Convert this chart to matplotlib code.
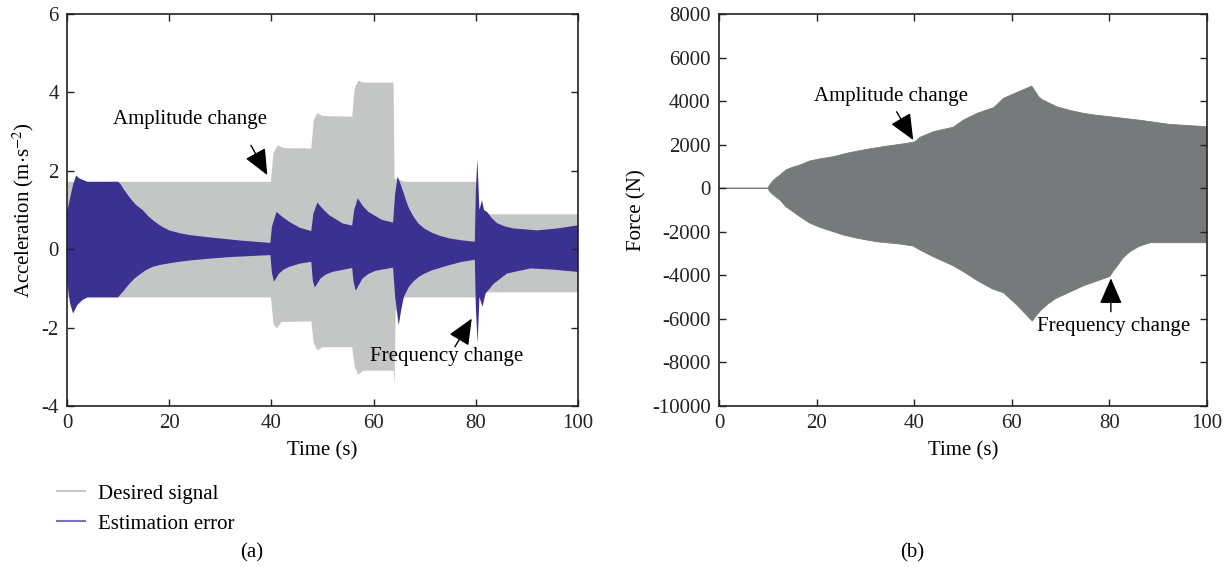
import matplotlib
matplotlib.use('Agg')
import matplotlib.pyplot as plt
from matplotlib.lines import Line2D

plt.rcParams.update({
    'font.family': 'Liberation Serif',
    'mathtext.fontset': 'stix',
    'font.size': 15,
    'axes.unicode_minus': False,
    'xtick.direction': 'in',
    'ytick.direction': 'in',
    'xtick.top': True,
    'ytick.right': True,
})

# (a) desired signal envelope, m/s^2
sig_up_t = [0, 39.9, 40.4, 41.2, 42.5, 47.8, 48.3, 49.0, 50.0, 55.8, 56.3, 57.0, 58.0,
            63.9, 64.1, 66.2, 80.0, 80.15, 100]
sig_up = [1.72, 1.72, 2.45, 2.65, 2.58, 2.57, 3.3, 3.47, 3.4, 3.38, 4.1, 4.3, 4.25,
          4.25, 1.8, 1.72, 1.72, 0.89, 0.89]
sig_lo_t = [0, 39.9, 40.4, 41.0, 42.0, 47.8, 48.3, 49.0, 50.0, 55.8, 56.3, 57.0, 58.0,
            63.9, 64.1, 64.3, 66.0, 80.0, 80.15, 100]
sig_lo = [-1.23, -1.23, -1.9, -2.02, -1.86, -1.84, -2.4, -2.58, -2.5, -2.5, -3.0, -3.2, -3.1,
          -3.1, -3.45, -1.6, -1.23, -1.23, -1.1, -1.1]

# (a) estimation error envelope
err_up_t = [0, 0.6, 1.2, 1.8, 2.5, 4, 10, 10.5, 11, 11.7, 12.5, 13.5, 14.8, 16, 17, 18.5,
            20, 22, 24, 28, 34, 39.8,
            40.1, 41.0, 42.2, 43.5, 45.5, 47.8,
            48.2, 49.0, 50.1, 51.3, 53.9, 55.8,
            56.2, 56.9, 57.9, 59.0, 61.6, 63.8,
            64.2, 64.7, 65.3, 65.9, 66.4, 66.9, 67.8, 68.8, 70, 71.4, 73, 74.7, 77, 79.8,
            80.0, 80.3, 80.7, 81.2, 81.6, 82.2, 83.2, 84.2, 85.7, 87.4, 92, 96, 100]
err_up = [0.92, 1.3, 1.65, 1.88, 1.8, 1.72, 1.72, 1.66, 1.55, 1.42, 1.28, 1.13, 1.0, 0.83, 0.72, 0.58,
          0.48, 0.41, 0.36, 0.3, 0.22, 0.16,
          0.57, 0.95, 0.82, 0.70, 0.55, 0.46,
          0.9, 1.19, 1.02, 0.87, 0.66, 0.6,
          1.0, 1.3, 1.1, 0.95, 0.75, 0.68,
          1.4, 1.86, 1.65, 1.42, 1.22, 1.05, 0.83, 0.65, 0.52, 0.42, 0.34, 0.28, 0.23, 0.19,
          1.5, 2.31, 1.0, 1.25, 1.0, 0.95, 0.78, 0.66, 0.58, 0.53, 0.48, 0.53, 0.61]
err_lo_t = [0, 0.6, 1.2, 2, 3, 4, 10, 10.5, 11, 11.6, 12.3, 13.3, 14.5, 15.5, 16.8, 18.3,
            20, 22, 24.6, 28, 32, 39.8,
            40.1, 40.5, 41.5, 42.4, 43.5, 45.5, 47.8,
            48.1, 48.5, 49.6, 50.6, 51.9, 55.8,
            56.1, 56.5, 57.8, 59, 60.4, 63.8,
            64.2, 64.9, 65.4, 65.9, 66.9, 67.8, 68.8, 70, 71.4, 74.7, 77, 79.8,
            80.0, 80.35, 80.7, 81.3, 81.9, 83.5, 86.1, 90.7, 95, 100]
err_lo = [-0.79, -1.38, -1.64, -1.43, -1.3, -1.23, -1.23, -1.15, -1.08, -0.98, -0.87, -0.74, -0.62, -0.53, -0.45, -0.4,
          -0.36, -0.32, -0.28, -0.24, -0.2, -0.15,
          -0.6, -0.83, -0.62, -0.52, -0.45, -0.37, -0.32,
          -0.8, -0.98, -0.75, -0.65, -0.58, -0.48,
          -0.85, -1.06, -0.75, -0.63, -0.55, -0.47,
          -1.2, -1.94, -1.55, -1.22, -0.96, -0.82, -0.71, -0.62, -0.54, -0.41, -0.33, -0.27,
          -1.5, -2.4, -1.22, -1.47, -1.13, -0.88, -0.62, -0.49, -0.52, -0.58]

# (b) control force envelope, N
f_up_t = [0, 10, 10.4, 11, 11.7, 12.5, 13.7, 15, 16.6, 18.6, 20.5, 23.4, 26.5, 30.3, 34, 37.1,
          39.8, 40.2, 41.2, 43.9, 48, 50.1, 53, 56.3, 58.3, 64.1, 64.8, 65.5, 66.3, 67.1,
          69.2, 72, 74.7, 77, 80.1, 86.3, 92.4, 100]
f_up = [0, 0, 150, 330, 470, 606, 836, 960, 1065, 1250, 1340, 1446, 1620, 1786, 1920, 2015,
        2110, 2140, 2337, 2594, 2800, 3131, 3450, 3700, 4128, 4692, 4450, 4201, 4060, 3972,
        3742, 3570, 3439, 3360, 3283, 3120, 2930, 2824]
f_lo_t = [0, 10, 10.4, 11, 11.7, 12.5, 13.7, 15, 16.6, 18.6, 20.5, 23.4, 25.5, 28, 30.3, 32.3,
          37.1, 39.8, 41.2, 43.9, 48, 50.1, 53, 56, 58.3, 61, 64.2, 65, 66, 67.5, 69.1, 74.7,
          80.1, 80.8, 81.5, 82.8, 84.2, 86, 88.3, 100]
f_lo = [0, 0, -150, -280, -410, -542, -849, -1050, -1308, -1600, -1780, -1997, -2149, -2280, -2378, -2456,
        -2562, -2654, -2838, -3145, -3560, -3832, -4250, -4620, -4800, -5350, -6100, -5850, -5592, -5300, -5055, -4480,
        -4050, -3800, -3604, -3200, -2916, -2680, -2502, -2502]

GRAY = '#c4c6c6'
BLUE = '#3a3191'
DARK = '#767a7a'

fig = plt.figure(figsize=(12.31, 5.74), dpi=100)
ax1 = fig.add_axes([0.0544, 0.2927, 0.4152, 0.6829])
ax2 = fig.add_axes([0.5841, 0.2927, 0.3964, 0.6829])

# panel (a)
ax1.fill(sig_up_t + sig_lo_t[::-1], sig_up + sig_lo[::-1], color=GRAY, lw=0)
ax1.fill(err_up_t + err_lo_t[::-1], err_up + err_lo[::-1], color=BLUE, lw=0)
ax1.set_xlim(0, 100)
ax1.set_ylim(-4, 6)
ax1.set_xticks(range(0, 101, 20))
ax1.set_yticks(range(-4, 7, 2))
ax1.set_xlabel('Time (s)', labelpad=6)
ax1.set_ylabel('Acceleration (m$\\cdot$s$^{-2}$)', labelpad=4)

arrow = dict(arrowstyle='-|>,head_length=0.8,head_width=0.35', color='black',
             lw=1.0, mutation_scale=20, shrinkA=0, shrinkB=0)
ax1.text(24, 3.3, 'Amplitude change', ha='center', va='center')
ax1.annotate('', xy=(39.2, 1.89), xytext=(36, 2.65), arrowprops=arrow)
ax1.text(74.3, -2.75, 'Frequency change', ha='center', va='center')
ax1.annotate('', xy=(79.2, -1.77), xytext=(75.9, -2.49), arrowprops=arrow)

# panel (b)
ax2.fill(f_up_t + f_lo_t[::-1], f_up + f_lo[::-1], facecolor=DARK, edgecolor=DARK, lw=0.6)
ax2.set_xlim(0, 100)
ax2.set_ylim(-10000, 8000)
ax2.set_xticks(range(0, 101, 20))
ax2.set_yticks(range(-10000, 8001, 2000))
ax2.set_xlabel('Time (s)', labelpad=6)
ax2.set_ylabel('Force (N)', labelpad=4)

ax2.text(35.3, 4200, 'Amplitude change', ha='center', va='center')
ax2.annotate('', xy=(39.8, 2213), xytext=(36.4, 3512), arrowprops=arrow)
ax2.text(80.9, -6360, 'Frequency change', ha='center', va='center')
ax2.annotate('', xy=(80.3, -4137), xytext=(80.3, -5670), arrowprops=arrow)

for ax in (ax1, ax2):
    for s in ax.spines.values():
        s.set_linewidth(1.2)
        s.set_color('#222222')
    ax.tick_params(length=5, width=1.0, colors='#222222', labelcolor='#222222', pad=6)

handles = [Line2D([], [], color='#c8c8c8', lw=1.5, label='Desired signal'),
           Line2D([], [], color='#7870c0', lw=1.5, label='Estimation error')]
fig.legend(handles=handles, loc='upper left', bbox_to_anchor=(57 / 1231, 1 - 484 / 574),
           frameon=False, borderpad=0, borderaxespad=0, handlelength=1.35,
           handletextpad=0.6, labelspacing=0.5)

fig.text(252 / 1231, 1 - 553 / 574, '(a)', ha='center', va='center')
fig.text(912 / 1231, 1 - 553 / 574, '(b)', ha='center', va='center')

fig.savefig('out.png', dpi=100)
